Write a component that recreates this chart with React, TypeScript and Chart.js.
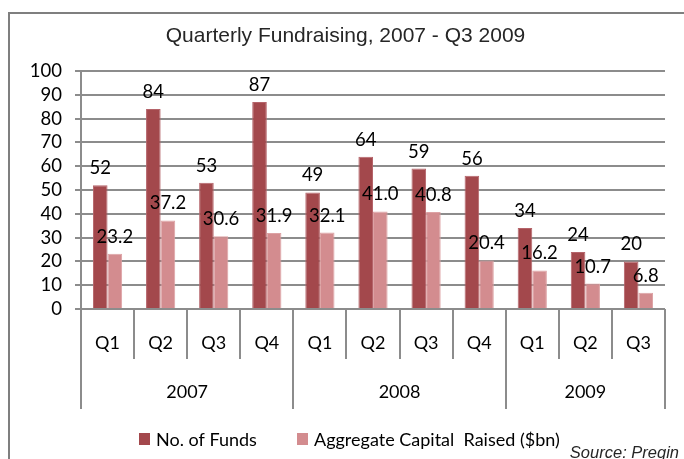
import React, { useEffect, useRef } from "react";
import { Chart, registerables } from "chart.js";

Chart.register(...registerables);

const title = "Quarterly Fundraising, 2007 - Q3 2009";
const quarters = ["Q1", "Q2", "Q3", "Q4", "Q1", "Q2", "Q3", "Q4", "Q1", "Q2", "Q3"];
const years = ["2007", "2008", "2009"];
const quartersPerYear = [4, 4, 3];
const numFunds = [52, 84, 53, 87, 49, 64, 59, 56, 34, 24, 20];
const capitalRaised = [23.2, 37.2, 30.6, 31.9, 32.1, 41.0, 40.8, 20.4, 16.2, 10.7, 6.8];
const seriesNames = ["No. of Funds", "Aggregate Capital  Raised ($bn)"];
const yMin = 0;
const yMax = 100;
const yStep = 10;
const sourceText = "Source: Preqin";

const GRID = "#8c8c8c";
const FONT = "Lato, 'DejaVu Sans', sans-serif";

const decorPlugin = {
  id: "decor",
  beforeDraw(chart: any) {
    const ctx = chart.ctx;
    ctx.save();
    ctx.fillStyle = "#ffffff";
    ctx.fillRect(0, 0, chart.width, chart.height);
    // frame
    ctx.strokeStyle = "#7f7f7f";
    ctx.lineWidth = 2;
    ctx.beginPath();
    ctx.moveTo(9, chart.height);
    ctx.lineTo(9, 13);
    ctx.lineTo(chart.width, 13);
    ctx.stroke();
    // title
    ctx.fillStyle = "#262626";
    ctx.font = "21px 'Liberation Sans', Arial, sans-serif";
    ctx.textAlign = "center";
    ctx.textBaseline = "alphabetic";
    ctx.fillText(title, 345.5, 42);
    ctx.restore();
  },
  afterDraw(chart: any) {
    const ctx = chart.ctx;
    const xs = chart.scales.x;
    const area = chart.chartArea;
    const n = quarters.length;
    const boundary = (i: number) => {
      if (i <= 0) return area.left;
      if (i >= n) return area.right;
      return (xs.getPixelForValue(i - 1) + xs.getPixelForValue(i)) / 2;
    };
    ctx.save();
    ctx.strokeStyle = GRID;
    ctx.lineWidth = 2;
    const yearStarts: number[] = [0];
    quartersPerYear.forEach((c, i) => yearStarts.push(yearStarts[i] + c));
    ctx.beginPath();
    ctx.moveTo(area.left, area.bottom);
    ctx.lineTo(area.right, area.bottom);
    for (let i = 0; i <= n; i++) {
      const x = Math.round(boundary(i));
      const isYear = yearStarts.includes(i);
      ctx.moveTo(x, i === 0 ? area.top : area.bottom);
      ctx.lineTo(x, area.bottom + (isYear ? 100 : 50));
    }
    ctx.stroke();
    // quarter & year labels
    ctx.fillStyle = "#000";
    ctx.font = `18px ${FONT}`;
    ctx.textAlign = "center";
    ctx.textBaseline = "middle";
    quarters.forEach((q, i) => {
      ctx.fillText(q, xs.getPixelForValue(i), area.bottom + 34);
    });
    years.forEach((y, i) => {
      const x0 = boundary(yearStarts[i]);
      const x1 = boundary(yearStarts[i + 1]);
      ctx.fillText(y, (x0 + x1) / 2, area.bottom + 83);
    });
    // data labels
    ctx.font = `18.5px ${FONT}`;
    ctx.textBaseline = "alphabetic";
    chart.data.datasets.forEach((ds: any, di: number) => {
      const meta = chart.getDatasetMeta(di);
      meta.data.forEach((el: any, j: number) => {
        const v = ds.data[j];
        const txt = di === 1 ? v.toFixed(1) : String(v);
        ctx.fillText(txt, el.x, el.y - 11);
      });
    });
    // legend
    const legendX = [139, 297];
    ctx.font = `18px ${FONT}`;
    ctx.textAlign = "left";
    chart.data.datasets.forEach((ds: any, di: number) => {
      ctx.fillStyle = ds.backgroundColor;
      ctx.fillRect(legendX[di], 433, 11, 12);
      ctx.fillStyle = "#000";
      ctx.fillText(ds.label, legendX[di] + 17, 446);
    });
    // source
    ctx.fillStyle = "#262626";
    ctx.font = "italic 16.5px 'Liberation Sans', Arial, sans-serif";
    ctx.textAlign = "right";
    ctx.fillText(sourceText, 679, 458);
    ctx.restore();
  },
};

export default function App() {
  const ref = useRef<HTMLCanvasElement | null>(null);
  useEffect(() => {
    if (!ref.current) return;
    const chart = new Chart(ref.current, {
      type: "bar",
      data: {
        labels: quarters,
        datasets: [
          {
            label: seriesNames[0],
            data: numFunds,
            backgroundColor: "#A3484C",
            borderColor: "#B5646A",
            borderWidth: 1,
            categoryPercentage: 0.55,
            barPercentage: 1,
          },
          {
            label: seriesNames[1],
            data: capitalRaised,
            backgroundColor: "#D38C8F",
            borderColor: "#DDA2A4",
            borderWidth: 1,
            categoryPercentage: 0.55,
            barPercentage: 1,
          },
        ],
      },
      options: {
        responsive: false,
        animation: false,
        devicePixelRatio: 1,
        layout: { padding: { left: 0, top: 71, right: 19, bottom: 150 } },
        plugins: {
          legend: { display: false },
          title: { display: false },
          tooltip: { enabled: false },
        },
        scales: {
          x: {
            display: false,
            offset: true,
          },
          y: {
            min: yMin,
            max: yMax,
            afterFit: (scale: any) => {
              scale.width = 81;
            },
            ticks: {
              stepSize: yStep,
              autoSkip: false,
              color: "#000",
              font: { family: FONT, size: 18.5 },
              padding: 13,
            },
            afterBuildTicks: (scale: any) => {
              const t = [];
              for (let v = yMin; v <= yMax; v += yStep) t.push({ value: v });
              scale.ticks = t;
            },
            grid: {
              color: GRID,
              lineWidth: 2,
              drawTicks: true,
              tickLength: 6,
            },
            border: { display: true, color: GRID, width: 2 },
          },
        },
      },
      plugins: [decorPlugin],
    });
    return () => chart.destroy();
  }, []);
  return (
    <div style={{ position: "absolute", left: 0, top: 0, width: 684, height: 459 }}>
      <canvas ref={ref} width={684} height={459} />
    </div>
  );
}
